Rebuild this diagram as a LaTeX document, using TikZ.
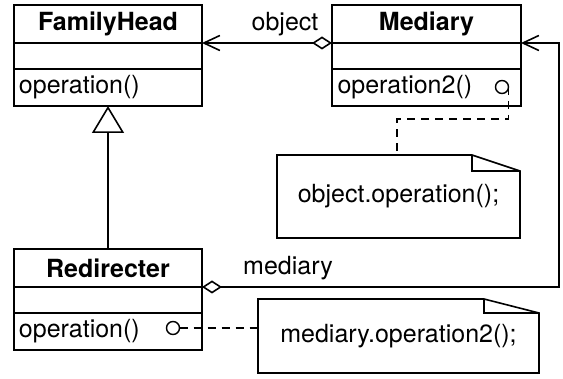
\documentclass[tikz,border=0pt]{standalone}
\usepackage{fontspec}
\setmainfont{TeX Gyre Heros}
\usetikzlibrary{arrows.meta}

\begin{document}
\begin{tikzpicture}[x=1pt,y=-1pt,line width=1.6pt,
		font=\fontsize{25}{30}\selectfont,
		part/.style={draw,rectangle,inner sep=0pt,outer sep=0pt,minimum width=188pt,anchor=north west},
		title/.style={part,minimum height=38pt,font=\fontsize{25}{30}\selectfont\bfseries},
		attr/.style={part,minimum height=26pt},
		oper/.style={part,minimum height=37pt,inner xsep=5pt,text width=178pt,align=left},
		port/.style={circle,draw,inner sep=0pt,outer sep=0pt,minimum size=13pt,line width=1.4pt},
		notebox/.style={inner sep=0pt,outer sep=0pt},
		dashline/.style={dash pattern=on 8pt off 6pt},
		has/.style={{Diamond[open,length=20pt,width=13pt]}-{Straight Barb[length=16pt,width=15pt]}}]
	\useasboundingbox (0,0) rectangle (563,379);
	% classes
	\node[title] (fhT) at (14,5) {FamilyHead};
	\node[attr] (fhA) at (fhT.south west) {};
	\node[oper] (fhO) at (fhA.south west) {operation()};
	\node[title,minimum width=189pt] (mdT) at (332,5) {Mediary};
	\node[attr,minimum width=189pt] (mdA) at (mdT.south west) {};
	\node[oper,minimum width=189pt] (mdO) at (mdA.south west) {operation2()};
	\node[title] (rdT) at (14,249) {Redirecter};
	\node[attr] (rdA) at (rdT.south west) {};
	\node[oper] (rdO) at (rdA.south west) {operation()};
	% associations
	\draw[has] (mdA.north west) -- (fhA.north east);
	\node (objlbl) at (285,24) {object};
	\draw[has] (rdA.north east) -- ++(357,0) |- (mdA.north east);
	\node (medlbl) at (288,268) {mediary};
	\draw[-{Triangle[open,length=27pt,width=32pt]}] (rdT.north) -- (fhO.south);
	% notes
	\node[notebox,minimum width=243pt,minimum height=83pt] (n1) at (398.5,196.5) {object.operation();};
	\draw (n1.north west) -- ([xshift=-48pt]n1.north east) -- ([yshift=-16pt]n1.north east)
		-- (n1.south east) -- (n1.south west) -- cycle;
	\draw ([xshift=-48pt]n1.north east) |- ([yshift=-16pt]n1.north east);
	\node[notebox,minimum width=281pt,minimum height=74pt] (n2) at (398.5,336) {mediary.operation2();};
	\draw (n2.north west) -- ([xshift=-55pt]n2.north east) -- ([yshift=-14pt]n2.north east)
		-- (n2.south east) -- (n2.south west) -- cycle;
	\draw ([xshift=-55pt]n2.north east) |- ([yshift=-14pt]n2.north east);
	\node[port] (mdC) at (502,87) {};
	\coordinate (bend) at (397,119);
	\draw[dashline] (mdC.east) |- (bend) -- (bend |- n1.north);
	\node[port] (rdC) at (173,328) {};
	\draw[dashline] (rdC.east) -- (rdC.east -| n2.west);
\end{tikzpicture}
\end{document}
